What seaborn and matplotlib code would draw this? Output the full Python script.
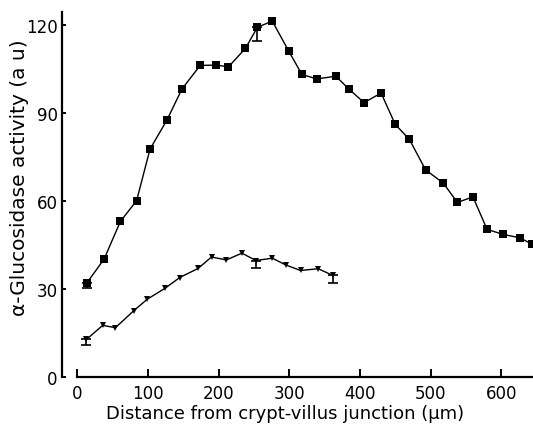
import numpy as np
import pandas as pd
import matplotlib
matplotlib.use("Agg")
import matplotlib.pyplot as plt
import seaborn as sns

# distance from crypt-villus junction (um) and activity (a u)
upper_dist = [14, 38, 61, 84, 103, 127, 148, 174, 197, 214, 238, 255, 276, 299, 318,
              339, 366, 385, 406, 430, 450, 470, 493, 518, 538, 560, 580, 603, 627, 644]
upper_act = [32.2, 40.2, 53.0, 60.1, 77.7, 87.6, 98.1, 106.2, 106.3, 105.7, 112.0, 119.2,
             121.3, 111.2, 103.1, 101.6, 102.5, 98.0, 93.5, 96.8, 86.1, 81.0, 70.6, 66.1,
             59.5, 61.4, 50.3, 48.6, 47.4, 45.2]

lower_dist = [13, 36, 54, 80, 99, 124, 145, 171, 190, 211, 233, 253, 276, 295, 316, 341, 362]
lower_act = [12.8, 17.6, 16.8, 22.6, 26.5, 30.2, 33.9, 37.0, 40.9, 39.9, 42.2, 39.7,
             40.5, 38.2, 36.3, 36.9, 34.6]

# one-sided (downward) error bars: index into series, size
upper_err_idx = [0, 11]
upper_err = [2.0, 4.8]
lower_err_idx = [0, 11, 16]
lower_err = [1.8, 2.5, 2.5]

sns.set_style("ticks")
plt.rcParams["font.family"] = ["DejaVu Sans"]
plt.rcParams["text.color"] = "black"
plt.rcParams["axes.labelcolor"] = "black"
plt.rcParams["xtick.color"] = "black"
plt.rcParams["ytick.color"] = "black"
plt.rcParams["axes.edgecolor"] = "black"

fig, ax = plt.subplots(figsize=(5.33, 4.27), dpi=100)
fig.subplots_adjust(left=62 / 533, right=1.0, bottom=1 - 378 / 427, top=1 - 13 / 427)

up = pd.DataFrame({"dist": upper_dist, "act": upper_act})
lo = pd.DataFrame({"dist": lower_dist, "act": lower_act})

sns.lineplot(data=up, x="dist", y="act", ax=ax, color="black", lw=1.0,
             marker="s", markersize=5.5, markeredgewidth=0)
sns.lineplot(data=lo, x="dist", y="act", ax=ax, color="black", lw=1.0,
             marker="v", markersize=4.5, markeredgewidth=0)

for df, idx, err in [(up, upper_err_idx, upper_err), (lo, lower_err_idx, lower_err)]:
    sub = df.iloc[idx]
    ax.errorbar(sub["dist"], sub["act"], yerr=[err, [0] * len(err)], fmt="none",
                ecolor="black", elinewidth=1.2, capsize=3.5, capthick=1.2)

ax.set_xlim(-21.6, 645)
ax.set_ylim(0, 124.4)
ax.set_xticks([0, 100, 200, 300, 400, 500, 600])
ax.set_yticks([0, 30, 60, 90, 120])
ax.spines["top"].set_visible(False)
ax.spines["right"].set_visible(False)
ax.spines["bottom"].set_bounds(0, 645)
ax.spines["bottom"].set_linewidth(1.6)
ax.spines["left"].set_linewidth(1.6)
ax.tick_params(axis="x", direction="in", length=6, width=1.4, labelsize=12, pad=5)
ax.tick_params(axis="y", direction="in", length=3, width=1.4, labelsize=12, pad=3)

ax.set_xlabel("Distance from crypt-villus junction (\u03bcm)", fontsize=13)
ax.set_ylabel("\u03b1-Glucosidase activity (a u)", fontsize=14.5)
ax.xaxis.set_label_coords(0.4745, -0.075)
ax.yaxis.set_label_coords(-0.07, 0.55)

fig.savefig("out.png", dpi=100)
